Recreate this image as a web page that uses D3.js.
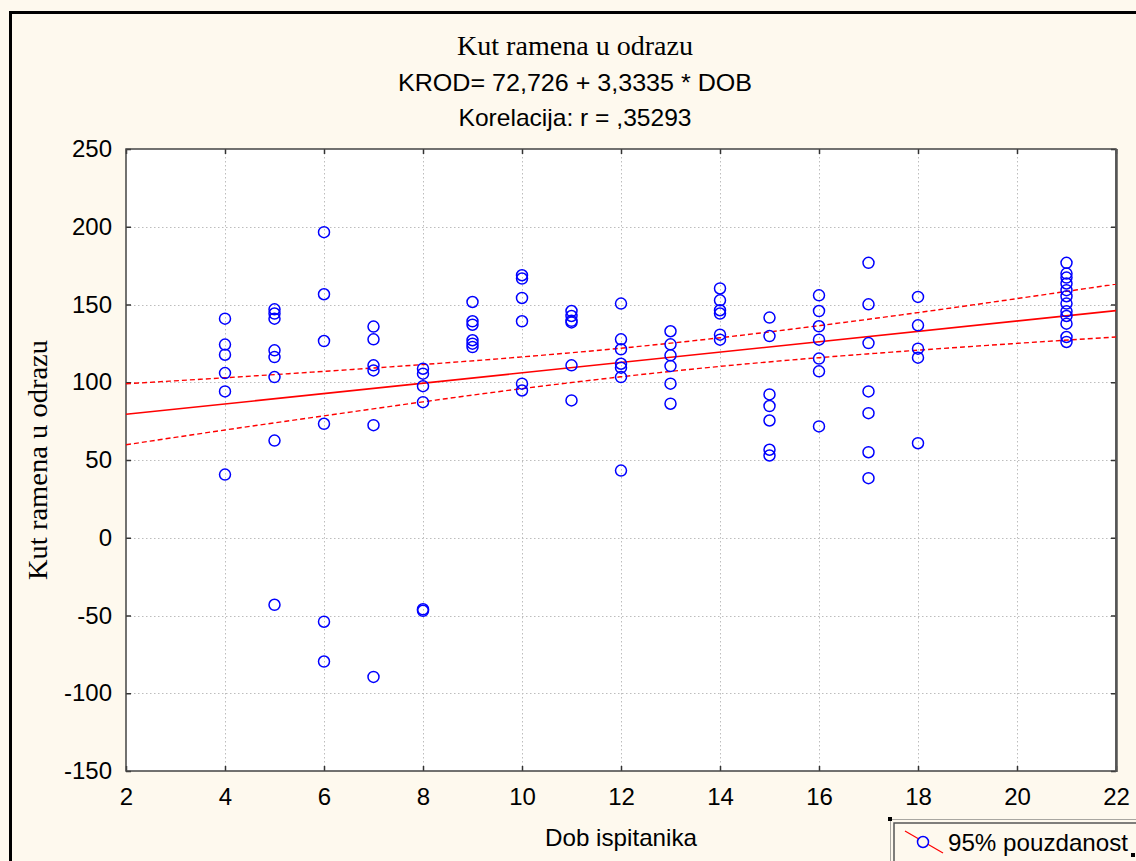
<!DOCTYPE html>
<html>
<head>
<meta charset="utf-8">
<script src="https://cdn.jsdelivr.net/npm/d3@7"></script>
<style>
  html, body { margin: 0; padding: 0; background: #fef9ee; }
  svg { display: block; }
</style>
</head>
<body>
<svg id="chart" width="1136" height="861"></svg>
<script>
// Age groups and measured shoulder angles (one list per age)
const ages = [4, 5, 6, 7, 8, 9, 10, 11, 12, 13, 14, 15, 16, 17, 18, 21];
const angles = [
  [140.9, 124.2, 117.7, 105.9, 94.1, 40.6],
  [146.9, 144.2, 140.9, 120.5, 116.2, 103.3, 62.5, -43.1],
  [196.5, 156.6, 126.5, 73.3, -54.0, -79.6],
  [135.8, 127.6, 110.9, 107.6, 72.4, -89.5],
  [108.7, 105.5, 97.5, 87.2, -46.0, -47.0],
  [151.6, 139.2, 137.0, 127.0, 124.8, 122.6],
  [168.8, 166.7, 154.2, 139.2, 99.1, 94.7],
  [145.8, 142.6, 139.5, 138.5, 110.9, 88.3],
  [150.6, 127.6, 121.2, 111.9, 109.4, 103.3, 43.2],
  [132.8, 124.4, 117.3, 110.4, 99.1, 86.2],
  [160.3, 152.7, 146.3, 144.2, 130.6, 127.4],
  [141.6, 129.7, 92.2, 84.7, 75.4, 56.6, 52.9],
  [155.9, 145.8, 136.0, 127.4, 115.2, 107.0, 71.6],
  [176.8, 150.1, 125.2, 94.1, 80.1, 55.0, 38.3],
  [154.9, 136.6, 121.6, 115.8, 60.8],
  [176.8, 169.9, 167.3, 163.5, 159.2, 155.3, 150.6, 145.6, 142.6, 137.7, 129.1, 125.9]
];

// Regression coefficients as printed in the header
const intercept = 72.726;
const slope = 3.3335;

// 95% confidence limits of the fitted line, at each age tick
const bandAges = [2, 4, 6, 8, 10, 12, 14, 16, 18, 20, 22];
const bandUpper = [99.0, 102.9, 107.0, 111.4, 116.3, 121.9, 128.6, 136.4, 144.8, 153.8, 163.1];
const bandLower = [59.8, 69.3, 78.4, 87.4, 95.9, 103.5, 110.2, 115.8, 120.6, 125.0, 129.1];

const xTicks = [2, 4, 6, 8, 10, 12, 14, 16, 18, 20, 22];
const yTicks = [-150, -100, -50, 0, 50, 100, 150, 200, 250];

const titleText = "Kut ramena u odrazu";
const equationText = "KROD= 72,726 + 3,3335 * DOB";
const corrText = "Korelacija: r = ,35293";
const xLabel = "Dob ispitanika";
const yLabel = "Kut ramena u odrazu";
const legendText = "95% pouzdanost";

const points = [];
ages.forEach((a, i) => angles[i].forEach(v => points.push({ x: a, y: v })));

const svg = d3.select("#chart");
const W = 1136, H = 861;
const plot = { left: 126, right: 1116, top: 149, bottom: 771 };

const x = d3.scaleLinear().domain([2, 22]).range([plot.left, plot.right]);
const y = d3.scaleLinear().domain([-150, 250]).range([plot.bottom, plot.top]);

const sans = "'Liberation Sans', Arial, sans-serif";
const serif = "'Liberation Serif', 'Times New Roman', serif";

// page background and outer frame
svg.append("rect").attr("width", W).attr("height", H).attr("fill", "#fef9ee");
svg.append("path")
  .attr("d", `M10.5,${H + 5} L10.5,12.5 L${W + 5},12.5`)
  .attr("fill", "none").attr("stroke", "#000").attr("stroke-width", 3);

// titles
svg.append("text").attr("x", 575).attr("y", 55).attr("text-anchor", "middle")
  .attr("font-family", serif).attr("font-size", 28).attr("fill", "#000")
  .attr("textLength", 236).attr("lengthAdjust", "spacingAndGlyphs")
  .text(titleText);
svg.append("text").attr("x", 575).attr("y", 91).attr("text-anchor", "middle")
  .attr("font-family", sans).attr("font-size", 24).attr("fill", "#000")
  .attr("textLength", 354).attr("lengthAdjust", "spacingAndGlyphs")
  .text(equationText);
svg.append("text").attr("x", 575).attr("y", 126).attr("text-anchor", "middle")
  .attr("font-family", sans).attr("font-size", 24).attr("fill", "#000")
  .attr("textLength", 233).attr("lengthAdjust", "spacingAndGlyphs")
  .text(corrText);

// plot area
svg.append("rect")
  .attr("x", plot.left).attr("y", plot.top)
  .attr("width", plot.right - plot.left).attr("height", plot.bottom - plot.top)
  .attr("fill", "#fff");

// dotted grid
const grid = svg.append("g").attr("stroke", "#bdbdbd").attr("stroke-width", 1)
  .attr("stroke-dasharray", "1.5,2.5");
grid.selectAll("line.v").data(xTicks.slice(1, -1)).join("line")
  .attr("x1", d => Math.round(x(d)) + 0.5).attr("x2", d => Math.round(x(d)) + 0.5)
  .attr("y1", plot.top).attr("y2", plot.bottom);
grid.selectAll("line.h").data(yTicks.slice(1, -1)).join("line")
  .attr("x1", plot.left).attr("x2", plot.right)
  .attr("y1", d => Math.round(y(d)) + 0.5).attr("y2", d => Math.round(y(d)) + 0.5);

// axes with inward ticks on all four sides
const fmt = d => String(d);
const axL = svg.append("g").attr("transform", `translate(${plot.left},0)`)
  .call(d3.axisLeft(y).tickValues(yTicks).tickSizeInner(-5).tickSizeOuter(0).tickPadding(14).tickFormat(fmt));
const axR = svg.append("g").attr("transform", `translate(${plot.right},0)`)
  .call(d3.axisRight(y).tickValues(yTicks).tickSizeInner(-5).tickSizeOuter(0).tickFormat(""));
const axB = svg.append("g").attr("transform", `translate(0,${plot.bottom})`)
  .call(d3.axisBottom(x).tickValues(xTicks).tickSizeInner(-5).tickSizeOuter(0).tickPadding(17).tickFormat(fmt));
const axT = svg.append("g").attr("transform", `translate(0,${plot.top})`)
  .call(d3.axisTop(x).tickValues(xTicks).tickSizeInner(-5).tickSizeOuter(0).tickFormat(""));
[axL, axR, axB, axT].forEach(g => {
  g.select(".domain").remove();
  g.selectAll(".tick line").attr("stroke", "#333").attr("stroke-width", 1.5);
  g.selectAll("text").attr("font-family", sans).attr("font-size", 24).attr("fill", "#000");
});

// plot border
svg.append("path")
  .attr("d", `M${plot.left},${plot.top} H${plot.right} V${plot.bottom} H${plot.left} Z`)
  .attr("fill", "none").attr("stroke", "#444").attr("stroke-width", 1.5);
svg.append("line").attr("x1", plot.right + 0.5).attr("x2", plot.right + 0.5)
  .attr("y1", plot.top).attr("y2", plot.bottom + 1)
  .attr("stroke", "#555").attr("stroke-width", 2.5);

// axis titles
svg.append("text").attr("x", 621).attr("y", 846).attr("text-anchor", "middle")
  .attr("font-family", sans).attr("font-size", 24).attr("fill", "#000")
  .attr("textLength", 152).attr("lengthAdjust", "spacingAndGlyphs")
  .text(xLabel);
svg.append("text").attr("transform", `translate(47,460) rotate(-90)`)
  .attr("text-anchor", "middle")
  .attr("font-family", serif).attr("font-size", 28).attr("fill", "#000")
  .attr("textLength", 240).attr("lengthAdjust", "spacingAndGlyphs")
  .text(yLabel);

// regression line and its 95% confidence band
const fit = v => intercept + slope * v;
svg.append("clipPath").attr("id", "plotclip").append("rect")
  .attr("x", plot.left).attr("y", plot.top)
  .attr("width", plot.right - plot.left).attr("height", plot.bottom - plot.top);
const lines = svg.append("g").attr("clip-path", "url(#plotclip)");

const bandLine = d3.line().x(d => x(d[0])).y(d => y(d[1])).curveMonotoneX;
const bandPath = vals => d3.line().curve(d3.curveMonotoneX)
  .x(d => x(d[0])).y(d => y(d[1]))(bandAges.map((a, i) => [a, vals[i]]));

[bandUpper, bandLower].forEach(vals => {
  lines.append("path").attr("d", bandPath(vals))
    .attr("fill", "none").attr("stroke", "#ff0000").attr("stroke-width", 1.4)
    .attr("stroke-dasharray", "5,3");
});
lines.append("path")
  .attr("d", d3.line().x(d => x(d)).y(d => y(fit(d)))(x.domain()))
  .attr("fill", "none").attr("stroke", "#ff0000").attr("stroke-width", 1.6);

// data points
svg.append("g").selectAll("circle").data(points).join("circle")
  .attr("cx", d => x(d.x)).attr("cy", d => y(d.y)).attr("r", 5.5)
  .attr("fill", "none").attr("stroke", "#0000ff").attr("stroke-width", 1.5);

// legend
const lg = svg.append("g");
lg.append("rect").attr("x", 890.5).attr("y", 819.5).attr("width", 260).attr("height", 60)
  .attr("fill", "none").attr("stroke", "#555").attr("stroke-width", 1)
  .attr("stroke-dasharray", "1,1");
lg.append("rect").attr("x", 894).attr("y", 823).attr("width", 260).attr("height", 60)
  .attr("fill", "none").attr("stroke", "#555").attr("stroke-width", 1.5);
lg.append("line").attr("x1", 905).attr("y1", 831).attr("x2", 943).attr("y2", 853)
  .attr("stroke", "#ff0000").attr("stroke-width", 1.2);
lg.append("circle").attr("cx", 923).attr("cy", 842).attr("r", 5.5)
  .attr("fill", "#fef9ee").attr("stroke", "#0000ff").attr("stroke-width", 1.5);
lg.append("text").attr("x", 948).attr("y", 851)
  .attr("font-family", sans).attr("font-size", 24).attr("fill", "#000")
  .attr("textLength", 180).attr("lengthAdjust", "spacingAndGlyphs")
  .text(legendText);
lg.append("rect").attr("x", 1131).attr("y", 853).attr("width", 4).attr("height", 4).attr("fill", "#000");
lg.append("rect").attr("x", 888).attr("y", 817).attr("width", 4).attr("height", 4).attr("fill", "#000");
</script>
</body>
</html>
